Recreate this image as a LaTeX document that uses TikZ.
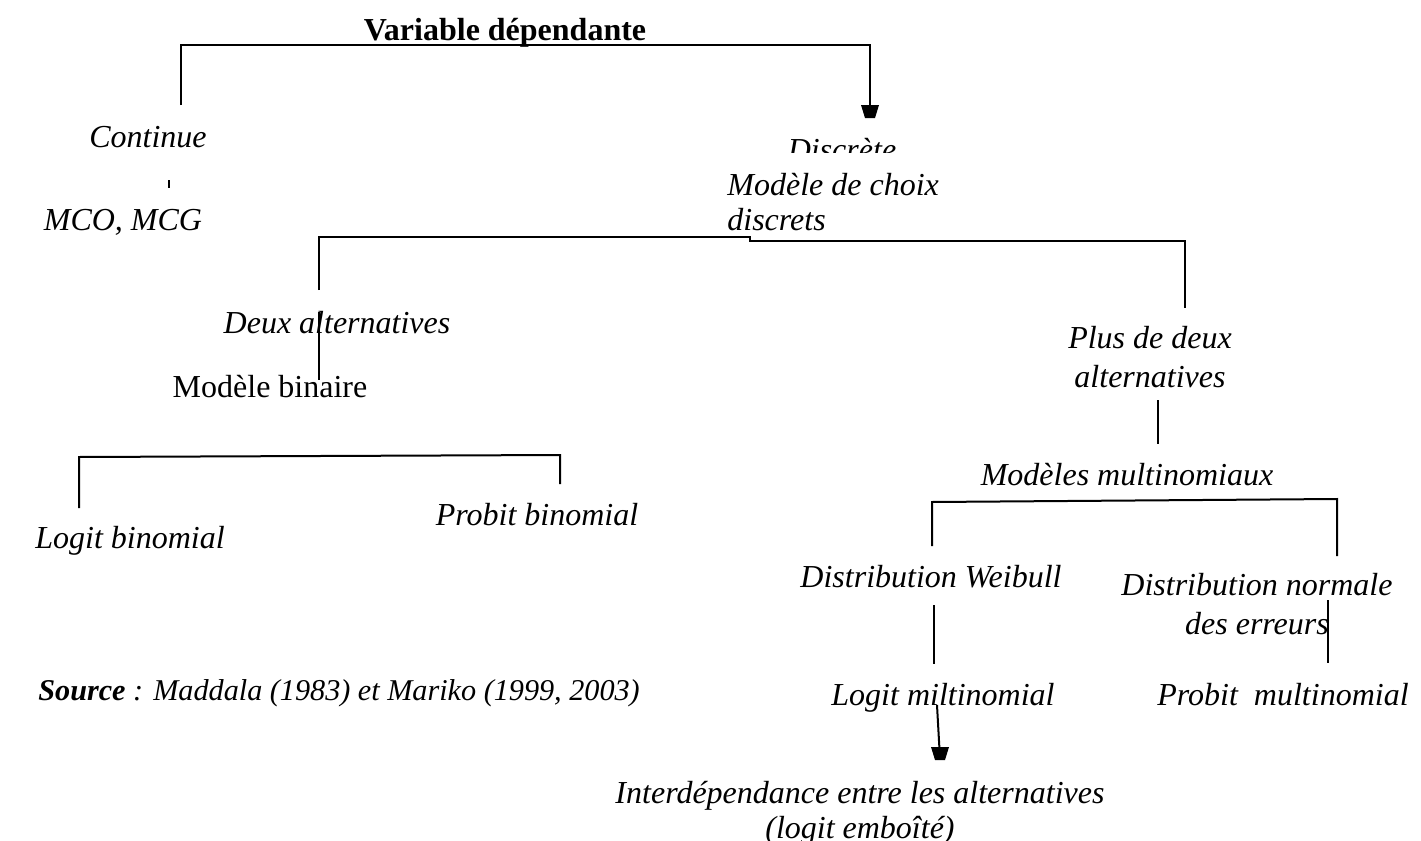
\documentclass[tikz,border=0pt]{standalone}
\usepackage{fontspec}
\setmainfont{Liberation Serif}
\begin{document}
\begin{tikzpicture}[x=0.5pt,y=-0.5pt,
  txt/.style={font=\fontsize{16}{19.5}\selectfont, inner sep=0pt, anchor=base},
  itx/.style={txt, font=\fontsize{16}{19.5}\selectfont\itshape},
  ln/.style={line width=1pt, black},
  trap/.style={fill=black}]
\clip (0,0) rectangle (1421,841);
\fill[white] (0,0) rectangle (1421,841);

% ---- texts ----
\node[txt, font=\fontsize{16}{19.5}\selectfont\bfseries] (title) at (505,40) {Variable dépendante};
\node[itx] (cont) at (148,147) {Continue};
\begin{scope}
  \clip (760,120) rectangle (930,152);
  \node[itx] (disc) at (842,160) {Discrète};
\end{scope}
\node[itx] (mco) at (123,230) {MCO, MCG};
\node[itx, align=left, anchor=base west, font=\fontsize{16}{17.5}\selectfont\itshape] (mdc) at (727,230) {Modèle de choix\\discrets};
\node[itx] (deux) at (337,333) {Deux alternatives};
\node[txt] (bin) at (270,397) {Modèle binaire};
\node[itx] (logb) at (130,548) {Logit binomial};
\node[itx] (probb) at (537,525) {Probit binomial};
\node[itx, align=center] (plus) at (1150,387) {Plus de deux\\alternatives};
\node[itx] (multi) at (1127,485) {Modèles multinomiaux};
\node[itx] (weib) at (931,587) {Distribution Weibull};
\node[itx, align=center] (norm) at (1257,634) {Distribution normale\\des erreurs};
\node[itx] (logm) at (943,705) {Logit miltinomial};
\node[itx, anchor=base west] (probm) at (1157,705) {Probit\ \ multinomial};
\node[itx, align=center, font=\fontsize{16}{17.5}\selectfont\itshape] (inter) at (860,838) {Interdépendance entre les alternatives\\(logit emboîté)};
\node[txt, anchor=base west, font=\fontsize{15.1}{19}\selectfont\itshape] (src) at (38,700) {\textbf{Source} : Maddala (1983) et Mariko (1999, 2003)};

% ---- connector points ----
\coordinate (a1) at (181,105); \coordinate (a2) at (181,45);
\coordinate (a3) at (870,45);  \coordinate (a4) at (870,118);
\coordinate (a5) at (870,106);
\coordinate (t1) at (169,180); \coordinate (t2) at (169,188);
\coordinate (b1) at (319,290); \coordinate (b2) at (319,237);
\coordinate (b3) at (750,237); \coordinate (b4) at (750,241);
\coordinate (b5) at (1185,241); \coordinate (b6) at (1185,308);
\coordinate (c1) at (319,312); \coordinate (c2) at (319,380);
\coordinate (d1) at (79,508); \coordinate (d2) at (79,457);
\coordinate (d3) at (560,455); \coordinate (d4) at (560,484);
\coordinate (e1) at (1158,400); \coordinate (e2) at (1158,444);
\coordinate (f1) at (932,546); \coordinate (f2) at (932,502);
\coordinate (f3) at (1337,499); \coordinate (f4) at (1337,556);
\coordinate (g1) at (934,605); \coordinate (g2) at (934,664);
\coordinate (h1) at (1328,600); \coordinate (h2) at (1328,663);
\coordinate (k1) at (937,705); \coordinate (k2) at (940,760);
\coordinate (k3) at (939.4,748);

% ---- connectors ----
\draw[ln] (a1) -- (a2) -- (a3) -- (a5);
\fill[trap, shift={(a4)}] (-9,-13) -- (9,-13) -- (5,0) -- (-5,0) -- cycle;
\draw[ln] (t1) -- (t2);
\draw[ln] (b1) -- (b2) -- (b3) -- (b4) -- (b5) -- (b6);
\draw[ln] (c1) -- (c2);
\draw[ln] (d1) -- (d2) -- (d3) -- (d4);
\draw[ln] (e1) -- (e2);
\draw[ln] (f1) -- (f2) -- (f3) -- (f4);
\draw[ln] (g1) -- (g2);
\draw[ln] (h1) -- (h2);
\draw[ln] (k1) -- (k3);
\fill[trap, shift={(k2)}] (-9,-13) -- (9,-13) -- (5,0) -- (-5,0) -- cycle;
\end{tikzpicture}
\end{document}
